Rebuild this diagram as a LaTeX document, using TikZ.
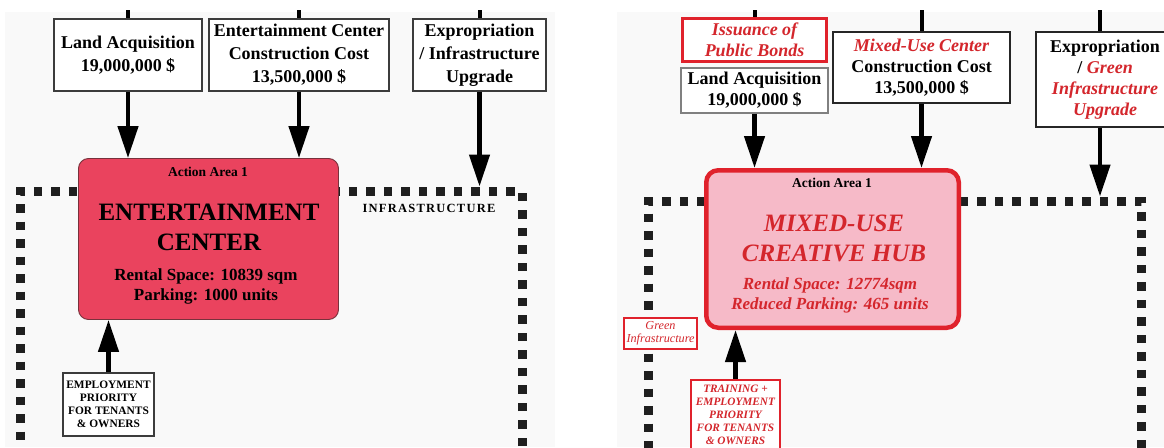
\documentclass[tikz,border=0pt]{standalone}
\usepackage{fontspec}
\setmainfont{Liberation Serif}
\usetikzlibrary{arrows.meta}

\definecolor{panelbg}{RGB}{249,249,249}
\definecolor{boxline}{RGB}{60,60,60}
\definecolor{hotred}{RGB}{234,67,94}
\definecolor{hotredline}{RGB}{120,50,60}
\definecolor{hubpink}{RGB}{246,186,200}
\definecolor{hubred}{RGB}{224,34,44}
\definecolor{txtred}{RGB}{212,38,44}

\newcommand{\pxfont}[2]{\fontsize{#1pt}{#2pt}\selectfont}

\tikzset{
  cost/.style={draw=boxline, line width=1.2pt, fill=white, inner sep=0pt,
    align=center, font=\pxfont{18}{23}\bfseries},
  costR/.style={cost, font=\pxfont{18}{21}\bfseries},
  redframe/.style={draw=hubred, fill=white, inner sep=0pt, align=center},
  flow/.style={line width=4.5pt, -{Triangle[length=32pt,width=20pt]}},
  feed/.style={line width=4pt},
  zone/.style={draw=black!88, line width=9pt, dash pattern=on 8.5pt off 9pt,
    inner sep=0pt},
  areabox/.style={rounded corners=10pt, inner sep=0pt},
  lbl/.style={inner sep=0pt, align=center},
}

\begin{document}
\begin{tikzpicture}[x=1pt, y=-1pt]
\useasboundingbox (0,0) rectangle (1164,447);

% the two panels
\fill[panelbg] (5,12) rectangle (555,447);
\fill[panelbg] (617,12) rectangle (1164,447);

% ---------------- left panel: entertainment center ----------------
\node[zone, minimum width=502pt, minimum height=278pt] (zoneL) at (271,330) {};

\node[cost, minimum width=148pt, minimum height=72pt] (landL) at (128,55)
  {Land Acquisition\\19,000,000 \$};
\node[cost, minimum width=180pt, minimum height=72pt] (buildL) at (299,55)
  {Entertainment Center\\Construction Cost\\13,500,000 \$};
\node[cost, minimum width=133pt, minimum height=72pt] (exprL) at (479.5,55)
  {Expropriation\\/ Infrastructure\\Upgrade};

\coordinate (landLin) at (128,10);
\coordinate (buildLin) at (299,10);
\coordinate (exprLin) at (479.5,10);
\draw[feed] (landLin) -- (landL.north);
\draw[feed] (buildLin) -- (buildL.north);
\draw[feed] (exprLin) -- (exprL.north);

\node[areabox, draw=hotredline, line width=0.9pt, fill=hotred,
  minimum width=260pt, minimum height=161pt] (areaL) at (208.5,239) {};
\node[lbl, font=\pxfont{13.5}{16}\bfseries] (actL) at (208,172) {Action Area 1};
\node[lbl, font=\pxfont{25}{30}\bfseries] (nameL) at (209,227)
  {ENTERTAINMENT\\CENTER};
\node[lbl, font=\pxfont{17}{20}\bfseries] (dataL) at (206,286)
  {Rental Space: 10839 sqm\\Parking: 1000 units};

\node[lbl, font=\pxfont{12.5}{15}\bfseries\addfontfeature{LetterSpace=10}]
  (infraL) at (429,208) {INFRASTRUCTURE};

\node[cost, font=\pxfont{11.4}{13}\bfseries, minimum width=91pt,
  minimum height=63pt] (empL) at (108.5,404.5)
  {EMPLOYMENT\\PRIORITY\\FOR TENANTS\\\& OWNERS};

\draw[flow] (landL.south) -- (landL.south |- areaL.north);
\draw[flow] (buildL.south) -- (buildL.south |- areaL.north);
\draw[flow] (exprL.south) -- (exprL.south |- zoneL.north);
\draw[flow] (empL.north) -- (empL.north |- areaL.south);

% ---------------- right panel: mixed-use creative hub ----------------
\node[zone, minimum width=493pt, minimum height=279pt] (zoneR) at (894.5,340.5) {};

\node[redframe, line width=3pt, minimum width=144pt, minimum height=43pt,
  font=\pxfont{18}{21}\bfseries\itshape\color{txtred}] (bonds) at (754.5,40)
  {Issuance of\\Public Bonds};
\node[costR, draw=gray, minimum width=147pt, minimum height=45pt] (landR)
  at (754.5,90.5) {Land Acquisition\\19,000,000 \$};
\node[costR, draw=black!85, minimum width=177pt, minimum height=71pt] (buildR)
  at (921.5,67.5)
  {{\color{txtred}\itshape Mixed-Use Center}\\Construction Cost\\13,500,000 \$};
\node[costR, draw=black!85, minimum width=138pt, minimum height=95pt] (exprR)
  at (1105,79.5)
  {Expropriation\\/ {\color{txtred}\itshape Green}\\
   {\color{txtred}\itshape Infrastructure}\\{\color{txtred}\itshape Upgrade}};

\coordinate (bondsin) at (754.5,10);
\coordinate (buildRin) at (921.5,10);
\coordinate (exprRin) at (1100,10);
\draw[feed] (bondsin) -- (bonds.north);
\draw[feed] (buildRin) -- (buildR.north);
\draw[feed] (exprRin) -- (exprRin |- exprR.north);

\node[areabox, rounded corners=12pt, draw=hubred, line width=4.5pt,
  fill=hubpink, minimum width=252.5pt, minimum height=157.5pt] (areaR)
  at (832.5,249) {};
\node[lbl, font=\pxfont{13.5}{16}\bfseries] (actR) at (832,183) {Action Area 1};
\node[lbl, font=\pxfont{25}{30}\bfseries\itshape\color{txtred}] (nameR)
  at (834,238) {MIXED-USE\\CREATIVE HUB};
\node[lbl, font=\pxfont{17}{19.5}\bfseries\itshape\color{txtred}] (dataR)
  at (830,295.5) {Rental Space: 12774sqm\\Reduced Parking: 465 units};

\node[redframe, line width=2pt, minimum width=73pt, minimum height=31pt,
  font=\pxfont{12.2}{13.5}\itshape\color{txtred}] (greenR) at (660.5,333.5)
  {Green\\Infrastructure};

\node[redframe, line width=2.5pt, minimum width=89pt, minimum height=70pt,
  font=\pxfont{11.3}{13}\bfseries\itshape\color{txtred}] (empR)
  at (735.5,415) {TRAINING +\\EMPLOYMENT\\PRIORITY\\FOR TENANTS\\\& OWNERS};

\draw[flow] (landR.south) -- (landR.south |- areaR.north);
\draw[flow] (buildR.south) -- (buildR.south |- areaR.north);
\draw[flow] (exprRin |- exprR.south) -- (exprRin |- zoneR.north);
\draw[flow] (empR.north) -- (empR.north |- areaR.south);
\end{tikzpicture}
\end{document}
